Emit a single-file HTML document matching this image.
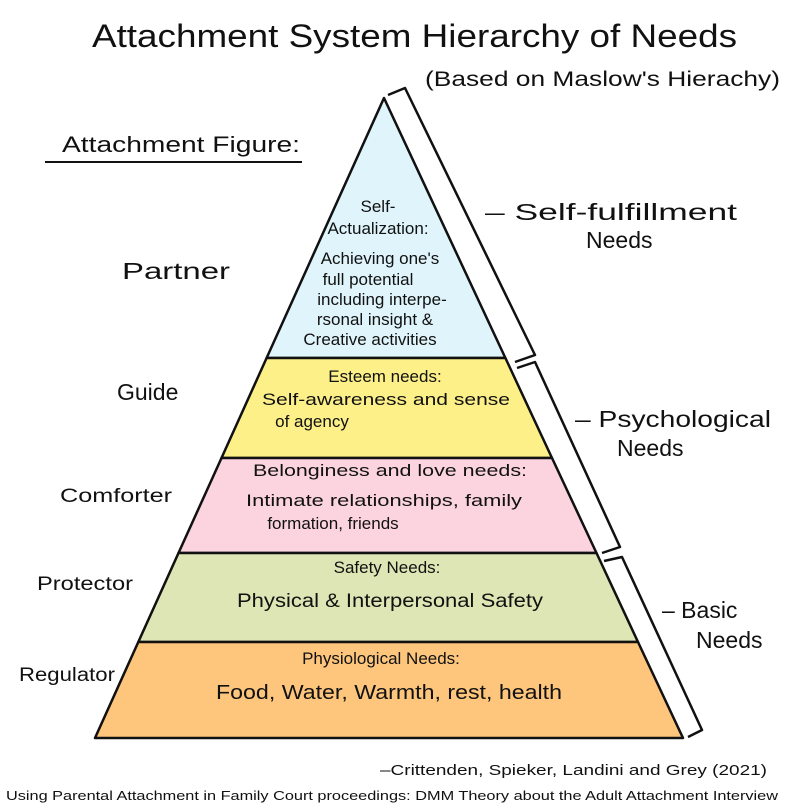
<!DOCTYPE html>
<html><head><meta charset="utf-8"><style>
body{margin:0;background:#fff}
svg text{font-family:"Liberation Sans",sans-serif;fill:#111}
</style></head><body>
<svg width="805" height="807" viewBox="0 0 805 807" xmlns="http://www.w3.org/2000/svg">
<rect width="805" height="807" fill="#fff"/>
<text x="92" y="47" font-size="32" textLength="645" lengthAdjust="spacingAndGlyphs">Attachment System Hierarchy of Needs</text>
<text x="425" y="86" font-size="21" textLength="355" lengthAdjust="spacingAndGlyphs">(Based on Maslow's Hierachy)</text>
<text x="62" y="152" font-size="22" textLength="238" lengthAdjust="spacingAndGlyphs">Attachment Figure:</text>
<line x1="45" y1="162" x2="302" y2="162" stroke="#111" stroke-width="2"/>
<g stroke="#111" stroke-width="2.5" stroke-linejoin="round">
<polygon points="384,98 266.6,358 505.4,358" fill="#dff5fb"/>
<polygon points="266.6,358 505.4,358 552,458 221.5,458" fill="#fdf088"/>
<polygon points="221.5,458 552,458 596.5,553 178.5,553" fill="#fbd4e0"/>
<polygon points="178.5,553 596.5,553 638,642 138.3,642" fill="#dde6b4"/>
<polygon points="138.3,642 638,642 683,738 95,738" fill="#fdc67c"/>
<polyline points="388,95 405,88 535,355 515,362" fill="none"/>
<polyline points="517,368 535,362 620,547 602,553" fill="none"/>
<polyline points="604,561 622,557 702,730 688,737" fill="none"/>
</g>
<g font-size="17" text-anchor="middle">
<text x="378" y="212">Self-</text>
<text x="378" y="234">Actualization:</text>
<text x="380" y="264">Achieving one's</text>
<text x="368" y="285">full potential</text>
<text x="382" y="305">including interpe-</text>
<text x="375" y="325">rsonal insight &amp;</text>
<text x="370" y="345">Creative activities</text>
<text x="385" y="382">Esteem needs:</text>
<text x="386" y="405" textLength="248" lengthAdjust="spacingAndGlyphs">Self-awareness and sense</text>
<text x="312" y="427">of agency</text>
<text x="390" y="476" textLength="274" lengthAdjust="spacingAndGlyphs">Belonginess and love needs:</text>
<text x="384" y="506" textLength="276" lengthAdjust="spacingAndGlyphs">Intimate relationships, family</text>
<text x="333" y="529">formation, friends</text>
<text x="387" y="573">Safety Needs:</text>
<text x="390" y="607" font-size="19" textLength="306" lengthAdjust="spacingAndGlyphs">Physical &amp; Interpersonal Safety</text>
<text x="381" y="664">Physiological Needs:</text>
<text x="389" y="699" font-size="20" textLength="346" lengthAdjust="spacingAndGlyphs">Food, Water, Warmth, rest, health</text>
</g>
<g font-size="23">
<text x="122" y="279" textLength="108" lengthAdjust="spacingAndGlyphs">Partner</text>
<text x="117" y="400">Guide</text>
<text x="60" y="502" font-size="19" textLength="112" lengthAdjust="spacingAndGlyphs">Comforter</text>
<text x="37" y="590" font-size="19" textLength="96" lengthAdjust="spacingAndGlyphs">Protector</text>
<text x="19" y="681" font-size="19" textLength="96" lengthAdjust="spacingAndGlyphs">Regulator</text>
<text x="485" y="220" textLength="252" lengthAdjust="spacingAndGlyphs">– Self-fulfillment</text>
<text x="586" y="248">Needs</text>
<text x="575" y="427" textLength="196" lengthAdjust="spacingAndGlyphs">– Psychological</text>
<text x="617" y="456">Needs</text>
<text x="662" y="618">– Basic</text>
<text x="696" y="648">Needs</text>
</g>
<text x="380" y="775" font-size="15" textLength="387" lengthAdjust="spacingAndGlyphs">–Crittenden, Spieker, Landini and Grey (2021)</text>
<text x="6" y="800" font-size="12.5" textLength="772" lengthAdjust="spacingAndGlyphs">Using Parental Attachment in Family Court proceedings: DMM Theory about the Adult Attachment Interview</text>
</svg>
</body></html>
